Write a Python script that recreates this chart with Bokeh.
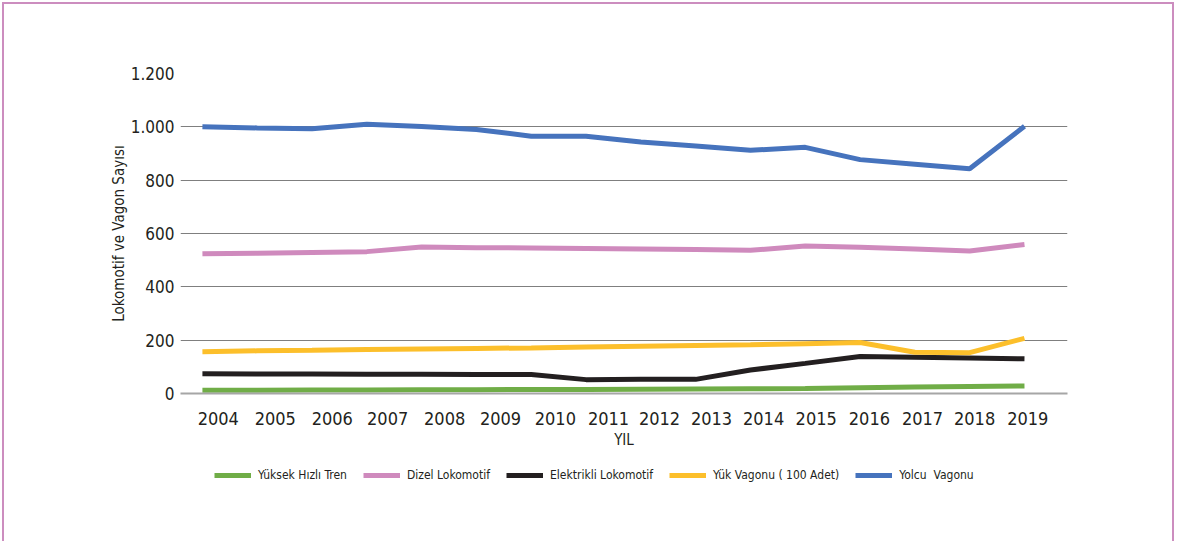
from bokeh.plotting import figure
from bokeh.layouts import column
from bokeh.models import Legend, LegendItem, FixedTicker, Range1d, CustomJSTickFormatter
from bokeh.embed import file_html
from bokeh.resources import INLINE

# Series (adet) by year
years = list(range(2004, 2020))
yuksek_hizli_tren = [12, 12, 13, 13, 14, 14, 15, 15, 16, 17, 18, 19, 22, 24, 26, 28]
dizel_lokomotif = [524, 526, 529, 532, 549, 547, 546, 544, 542, 540, 537, 553, 548, 542, 534, 559]
elektrikli_lokomotif = [74, 73, 73, 72, 72, 71, 71, 52, 53, 53, 88, 113, 139, 136, 133, 130]
yuk_vagonu_100 = [157, 160, 162, 165, 167, 169, 171, 174, 177, 180, 183, 187, 191, 155, 153, 207]
yolcu_vagonu = [1000, 996, 993, 1010, 1001, 990, 965, 965, 943, 928, 912, 923, 877, 860, 843, 1002]

series_names = ["Yüksek Hızlı Tren", "Dizel Lokomotif", "Elektrikli Lokomotif",
                "Yük Vagonu ( 100 Adet)", "Yolcu  Vagonu"]
series_values = [yuksek_hizli_tren, dizel_lokomotif, elektrikli_lokomotif,
                 yuk_vagonu_100, yolcu_vagonu]
series_colors = ["#70ad47", "#cf8abd", "#231f20", "#fcbf2b", "#4673bd"]

year_labels = [str(y) for y in years]
y_ticks = [0, 200, 400, 600, 800, 1000, 1200]

# where each year label sits along the axis (slightly off the data points)
year_label_pos = [2004.29, 2005.33, 2006.37, 2007.38, 2008.42, 2009.44, 2010.44, 2011.41,
                  2012.34, 2013.29, 2014.24, 2015.20, 2016.17, 2017.14, 2018.09, 2019.06]

FONT = "DejaVu Sans Condensed, Roboto Condensed, Liberation Sans Narrow, Roboto, sans-serif"
TXT = "#231f20"
PINK = "#cc8dbf"

# ---- chart ----
p = figure(width=1168, height=460, output_backend="svg", toolbar_location=None,
           x_range=Range1d(2003.6, 2019.785), y_range=Range1d(0, 1200),
           min_border_left=176, min_border_right=105, min_border_top=69,
           min_border_bottom=71)
p.outline_line_color = None
p.background_fill_color = "white"
p.border_fill_color = "white"

p.xgrid.grid_line_color = None
p.ygrid.grid_line_color = "#7f7f7f"
p.ygrid.grid_line_width = 1
p.ygrid.ticker = FixedTicker(ticks=y_ticks)

yax = p.yaxis[0]
yax.ticker = FixedTicker(ticks=y_ticks)
yax.formatter = CustomJSTickFormatter(code="""
    if (tick >= 1000) {
        const r = String(tick % 1000).padStart(3, '0');
        return Math.floor(tick / 1000) + '.' + r;
    }
    return String(tick);
""")
yax.axis_line_color = None
yax.major_tick_line_color = None
yax.minor_tick_line_color = None
yax.major_label_standoff = 0
yax.major_label_text_font = FONT
yax.major_label_text_font_size = "17px"
yax.major_label_text_color = TXT
yax.axis_label = "Lokomotif ve Vagon Sayısı"
yax.axis_label_text_font = FONT
yax.axis_label_text_font_size = "15px"
yax.axis_label_text_font_style = "normal"
yax.axis_label_text_color = TXT
yax.axis_label_standoff = 0

xax = p.xaxis[0]
xax.ticker = FixedTicker(ticks=year_label_pos)
xax.formatter = CustomJSTickFormatter(args=dict(labels=year_labels),
                                      code="return labels[index];")
xax.axis_line_color = "#a6a6a6"
xax.axis_line_width = 2
xax.major_tick_line_color = None
xax.minor_tick_line_color = None
xax.major_label_standoff = 12
xax.major_label_text_font = FONT
xax.major_label_text_font_size = "18px"
xax.major_label_text_color = TXT
xax.axis_label = "YIL"
xax.axis_label_text_font = FONT
xax.axis_label_text_font_size = "15px"
xax.axis_label_text_font_style = "normal"
xax.axis_label_text_color = TXT
xax.axis_label_standoff = 3

for vals, col in zip(series_values, series_colors):
    p.line(years, vals, line_color=col, line_width=5)

# ---- key strip under the chart ----
k = figure(width=1168, height=77, output_backend="svg", toolbar_location=None,
           x_range=Range1d(0, 1), y_range=Range1d(0, 1),
           min_border_left=0, min_border_right=0, min_border_top=0, min_border_bottom=0,
           x_axis_location=None, y_axis_location=None)
k.outline_line_color = None
k.grid.visible = False
k.background_fill_color = "white"
k.border_fill_color = "white"

items = []
for name, vals, col in zip(series_names, series_values, series_colors):
    # same series, kept outside this strip's ranges: only their key swatches show
    r = k.line(years, vals, line_color=col, line_width=5)
    items.append(LegendItem(label=name, renderers=[r]))

legend = Legend(items=items, orientation="horizontal", location=(34, 56),
                glyph_width=37, glyph_height=20, label_height=20, label_standoff=7,
                spacing=16, padding=0, margin=0, border_line_color=None,
                background_fill_alpha=0, label_text_font=FONT,
                label_text_font_size="12px", label_text_color=TXT)
k.add_layout(legend)

page = column(p, k, spacing=0,
              styles={"border-top": f"2px solid {PINK}", "border-left": f"2px solid {PINK}",
                      "border-right": f"2px solid {PINK}", "margin": "2px 0 0 2px",
                      "background-color": "white"})

open("out.html", "w").write(file_html(page, INLINE))
